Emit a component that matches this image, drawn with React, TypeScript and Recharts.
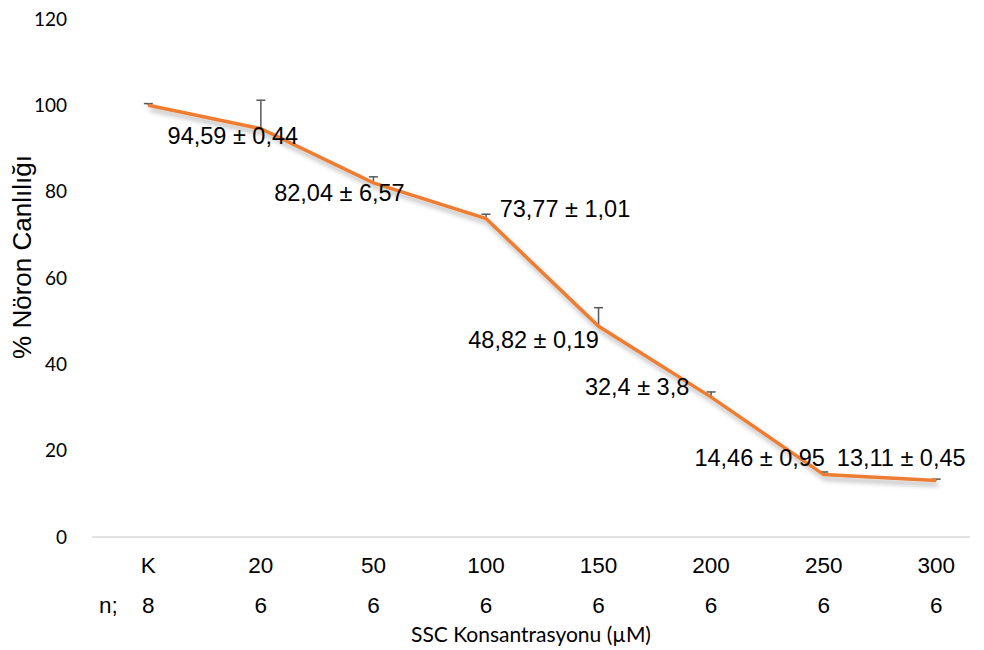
import { LineChart, Line, XAxis, YAxis, ErrorBar, LabelList, Customized } from 'recharts';

const categories = ['K', '20', '50', '100', '150', '200', '250', '300'];
const nCounts = [8, 6, 6, 6, 6, 6, 6, 6];
const viability = [100, 94.59, 82.04, 73.77, 48.82, 32.4, 14.46, 13.11];
const upperErr = [0.4, 6.6, 1.4, 1.0, 4.3, 1.2, 0.6, 0.3];
const labelTexts = ['', '94,59 ± 0,44', '82,04 ± 6,57', '73,77 ± 1,01', '48,82 ± 0,19', '32,4 ± 3,8', '14,46 ± 0,95', '13,11 ± 0,45'];
// label shift from the point (dx, dy), as placed by hand in the original
const labelShift: [number, number][] = [[0, 0], [-28, 7], [-34, 10], [79, -10], [-65, 14], [-74, -10], [-64, -17], [-35, -22]];

const data = categories.map((c, i) => ({
  idx: i,
  cat: c,
  n: nCounts[i],
  value: viability[i],
  err: [0, upperErr[i]],
  label: labelTexts[i],
}));

const arial = 'Liberation Sans, Arial, sans-serif';
const calibri = 'Lato, Open Sans, sans-serif';

const XTick = (props: any) => {
  const { x, y, payload } = props;
  const i = payload.value;
  return (
    <g>
      <text x={x} y={y + 20} textAnchor="middle" dominantBaseline="central" fontFamily={arial} fontSize={22.5} fill="#000">
        {categories[i]}
      </text>
      <text x={x} y={y + 60} textAnchor="middle" dominantBaseline="central" fontFamily={arial} fontSize={22.5} fill="#000">
        {nCounts[i]}
      </text>
      {i === 0 && (
        <text x={x - 40} y={y + 60} textAnchor="middle" dominantBaseline="central" fontFamily={arial} fontSize={22.5} fill="#000">
          n;
        </text>
      )}
    </g>
  );
};

const PointLabel = (props: any) => {
  const { x, y, index, value } = props;
  if (!value) return null;
  const [dx, dy] = labelShift[index];
  return (
    <text x={x + dx} y={y + dy} textAnchor="middle" dominantBaseline="central" fontFamily={arial} fontSize={23.5} fill="#000">
      {value}
    </text>
  );
};

export default function App() {
  return (
    <div style={{ position: 'absolute', left: 0, top: 0, background: '#fff' }}>
      {/* Excel draws only the upper half of these error bars: hide the lower cap */}
      <style>{'.recharts-errorBar line:nth-of-type(3){display:none}'}</style>
      <LineChart width={984} height={650} data={data} margin={{ top: 19, right: 14, bottom: 0, left: 0 }}>
        <Customized
          component={() => (
            <g>
              <defs>
                <filter id="lineShadow" x="-10%" y="-10%" width="120%" height="130%">
                  <feDropShadow dx="2" dy="4" stdDeviation="2.5" floodColor="#000" floodOpacity="0.3" />
                </filter>
              </defs>
              <text
                transform="translate(22,257) rotate(-90)"
                textAnchor="middle"
                dominantBaseline="central"
                fontFamily={arial}
                fontSize={26}
                fill="#000"
              >
                % Nöron Canlılığı
              </text>
            </g>
          )}
        />
        <XAxis
          type="number"
          dataKey="idx"
          domain={[-0.5, 7.3]}
          ticks={[0, 1, 2, 3, 4, 5, 6, 7]}
          tick={<XTick />}
          tickLine={false}
          axisLine={{ stroke: '#d9d9d9', strokeWidth: 1.5 }}
          height={113}
          interval={0}
          label={{ value: 'SSC Konsantrasyonu (µM)', position: 'insideBottom', offset: 8, style: { fontFamily: calibri, fontSize: 21, fill: '#000' } }}
        />
        <YAxis
          domain={[0, 120]}
          ticks={[0, 20, 40, 60, 80, 100, 120]}
          axisLine={false}
          tickLine={false}
          width={92}
          tickMargin={19}
          tick={{ fontFamily: calibri, fontSize: 19, fill: '#000' }}
        />
        <Line
          type="linear"
          dataKey="value"
          stroke="#ED7D31"
          strokeWidth={3.5}
          dot={false}
          activeDot={false}
          filter="url(#lineShadow)"
          isAnimationActive={false}
        >
          <ErrorBar dataKey="err" direction="y" width={4.5} stroke="#595959" strokeWidth={1.5} isAnimationActive={false} />
          <LabelList dataKey="label" content={<PointLabel />} />
        </Line>
      </LineChart>
    </div>
  );
}
